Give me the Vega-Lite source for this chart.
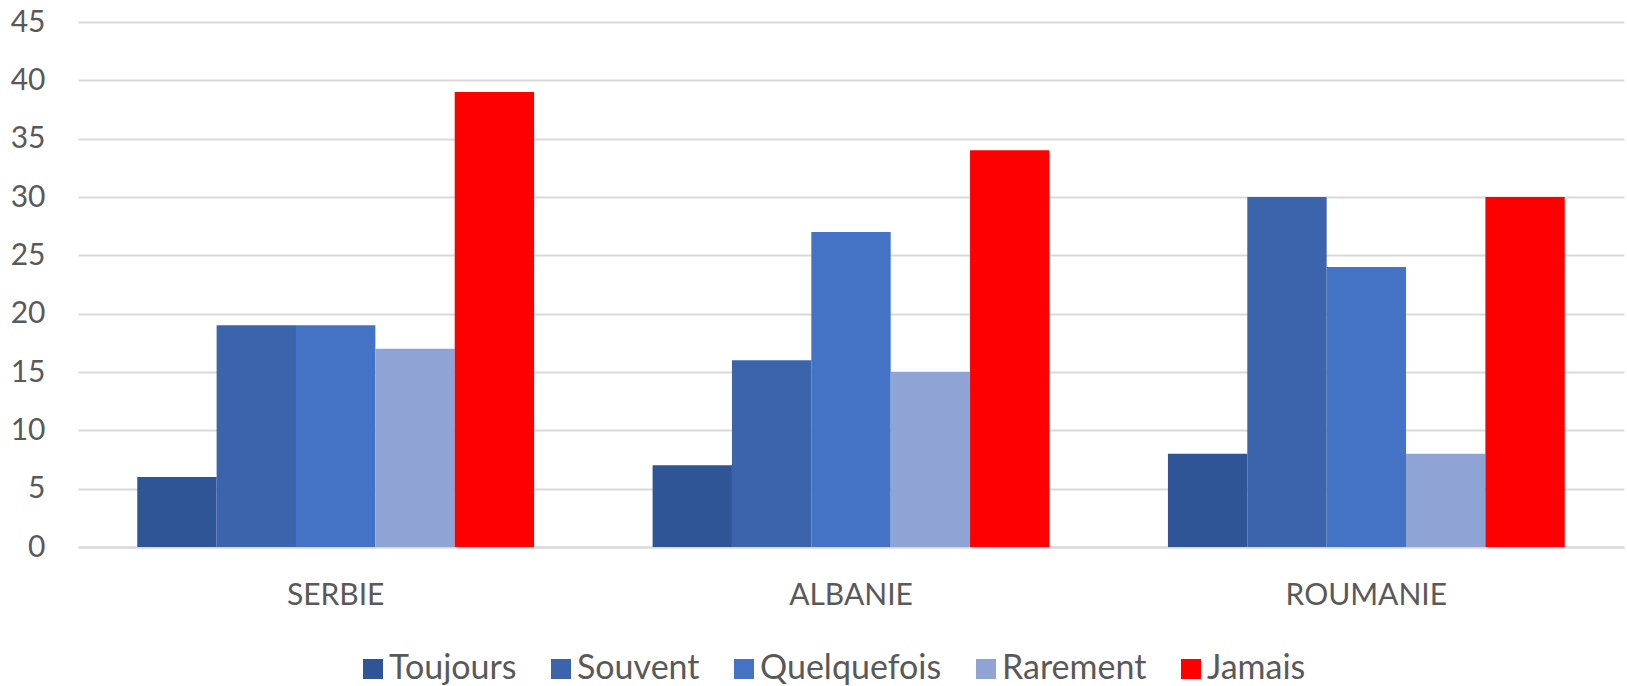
{
  "$schema": "https://vega.github.io/schema/vega-lite/v6.json",
  "width": 1546,
  "height": 525,
  "autosize": {"type": "none"},
  "padding": {"left": 78, "top": 22, "right": 3, "bottom": 139},
  "background": "white",
  "config": {"font": "Lato", "view": {"stroke": null}},
  "data": {"values": [
    {"pays": "SERBIE", "freq": "Toujours", "v": 6},
    {"pays": "SERBIE", "freq": "Souvent", "v": 19},
    {"pays": "SERBIE", "freq": "Quelquefois", "v": 19},
    {"pays": "SERBIE", "freq": "Rarement", "v": 17},
    {"pays": "SERBIE", "freq": "Jamais", "v": 39},
    {"pays": "ALBANIE", "freq": "Toujours", "v": 7},
    {"pays": "ALBANIE", "freq": "Souvent", "v": 16},
    {"pays": "ALBANIE", "freq": "Quelquefois", "v": 27},
    {"pays": "ALBANIE", "freq": "Rarement", "v": 15},
    {"pays": "ALBANIE", "freq": "Jamais", "v": 34},
    {"pays": "ROUMANIE", "freq": "Toujours", "v": 8},
    {"pays": "ROUMANIE", "freq": "Souvent", "v": 30},
    {"pays": "ROUMANIE", "freq": "Quelquefois", "v": 24},
    {"pays": "ROUMANIE", "freq": "Rarement", "v": 8},
    {"pays": "ROUMANIE", "freq": "Jamais", "v": 30}
  ]},
  "mark": {"type": "bar"},
  "encoding": {
    "x": {
      "field": "pays", "type": "nominal", "sort": ["SERBIE", "ALBANIE", "ROUMANIE"],
      "scale": {"paddingInner": 0.23, "paddingOuter": 0.115},
      "axis": {"title": null, "labelAngle": 0, "labelFontSize": 30, "labelColor": "#595959", "labelPadding": 33, "ticks": false, "domainColor": "#D9D9D9", "domainWidth": 2}
    },
    "xOffset": {"field": "freq", "type": "nominal", "sort": ["Toujours", "Souvent", "Quelquefois", "Rarement", "Jamais"], "scale": {"paddingInner": 0, "paddingOuter": 0}},
    "y": {
      "field": "v", "type": "quantitative",
      "scale": {"domain": [0, 45], "nice": false},
      "axis": {"title": null, "values": [0, 5, 10, 15, 20, 25, 30, 35, 40, 45], "labelFontSize": 30, "labelColor": "#595959", "labelPadding": 33, "ticks": false, "domain": false, "gridColor": "#D9D9D9", "gridWidth": 2}
    },
    "color": {
      "field": "freq", "type": "nominal", "sort": ["Toujours", "Souvent", "Quelquefois", "Rarement", "Jamais"],
      "scale": {"domain": ["Toujours", "Souvent", "Quelquefois", "Rarement", "Jamais"], "range": ["#2F5597", "#3B64AD", "#4472C4", "#8FA4D4", "#FF0000"]},
      "legend": {"title": null, "orient": "none", "direction": "horizontal", "legendX": 278, "legendY": 630, "symbolType": "square", "symbolSize": 400, "symbolStrokeWidth": 0, "labelFontSize": 34, "labelLimit": 0, "labelColor": "#595959", "labelOffset": -1, "columnPadding": 27, "symbolOpacity": 1}
    }
  }
}
